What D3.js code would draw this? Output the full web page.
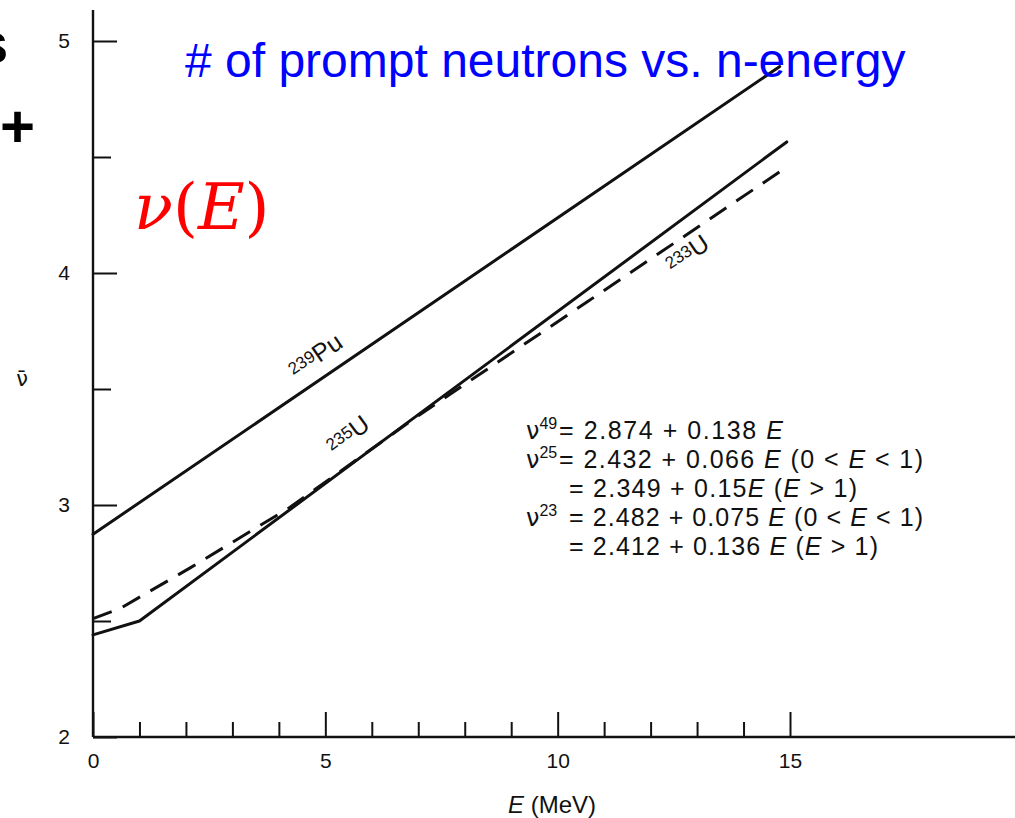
<!DOCTYPE html>
<html><head><meta charset="utf-8">
<script src="https://cdn.jsdelivr.net/npm/d3@7"></script>
<style>body{margin:0;background:#fff;} svg{display:block;}</style>
</head><body>
<svg id="chart" width="1015" height="818"></svg>
<script>
// ---- data ----
const puE = [0, 14.78];
const puNu = [2.874, 4.89];
const u235E = [0, 1.0, 14.93];
const u235Nu = [2.44, 2.50, 4.565];
const u233E = [0, 0.6, 2.1, 4.24, 7.0, 10.63, 14.93];
const u233Nu = [2.51, 2.556, 2.73, 2.99, 3.385, 3.875, 4.457];
const xMajorTicks = [0, 5, 10, 15];
const xMinorTicks = [1, 2, 3, 4, 6, 7, 8, 9, 11, 12, 13, 14];
const yMajorTicks = [2, 3, 4, 5];
const yMinorTicks = [2.5, 3.5, 4.5];
const curveLabels = [
  {iso: "239", el: "Pu", E: 4.85, nu: 3.625, ref: "pu"},
  {iso: "235", el: "U", E: 5.55, nu: 3.285, ref: "u235"},
  {iso: "233", el: "U", E: 12.85, nu: 4.065, ref: "u233"}
];
const eqSymbol = ["ν", "ν", "", "ν", ""];
const eqSup = ["49", "25", "", "23", ""];
const eqRest = [
  "= 2.874 + 0.138 E",
  "= 2.432 + 0.066 E (0 < E < 1)",
  "= 2.349 + 0.15E (E > 1)",
  "= 2.482 + 0.075 E (0 < E < 1)",
  "= 2.412 + 0.136 E (E > 1)"
];
const titleText = "# of prompt neutrons vs. n-energy";
const xLabel = "(MeV)";

// ---- layout ----
const svg = d3.select("#chart");
const x = d3.scaleLinear().domain([0, 15]).range([93, 790]);
const y = d3.scaleLinear().domain([2, 5]).range([737, 41]);
const ink = "#111";

// slide remnants on the left edge
svg.append("text").attr("x", -24).attr("y", 63).attr("font-family", "Liberation Sans, Arial")
  .attr("font-weight", "bold").attr("font-size", 58).text("s");
svg.append("text").attr("x", 0).attr("y", 147).attr("font-family", "Liberation Sans, Arial")
  .attr("font-weight", "bold").attr("font-size", 60).text("+");

// axis lines
svg.append("line").attr("x1", x(0)).attr("x2", x(0)).attr("y1", 10).attr("y2", y(2))
  .attr("stroke", ink).attr("stroke-width", 2.4);
svg.append("line").attr("x1", x(0)).attr("x2", 1015).attr("y1", y(2)).attr("y2", y(2))
  .attr("stroke", ink).attr("stroke-width", 2.4);

function styleAxis(g) {
  g.select(".domain").remove();
  g.selectAll(".tick line").attr("stroke", ink).attr("stroke-width", 2);
  g.selectAll(".tick text").attr("fill", ink).attr("font-family", "Liberation Sans, Arial").attr("font-size", 21);
}
svg.append("g").attr("transform", `translate(0,${y(2)})`)
  .call(d3.axisBottom(x).tickValues(xMajorTicks).tickSizeInner(-25).tickSizeOuter(0).tickPadding(16).tickFormat(d3.format("d")))
  .call(styleAxis);
svg.append("g").attr("transform", `translate(0,${y(2)})`)
  .call(d3.axisBottom(x).tickValues(xMinorTicks).tickSizeInner(-15).tickSizeOuter(0).tickFormat(""))
  .call(styleAxis);
svg.append("g").attr("transform", `translate(${x(0)},0)`)
  .call(d3.axisLeft(y).tickValues(yMajorTicks).tickSizeInner(-24).tickSizeOuter(0).tickPadding(23).tickFormat(d3.format("d")))
  .call(styleAxis);
svg.append("g").attr("transform", `translate(${x(0)},0)`)
  .call(d3.axisLeft(y).tickValues(yMinorTicks).tickSizeInner(-18).tickSizeOuter(0).tickFormat(""))
  .call(styleAxis);

// axis titles
svg.append("text").attr("x", 22).attr("y", 386).attr("text-anchor", "middle")
  .attr("font-family", "DejaVu Sans, Liberation Sans").attr("font-size", 21).attr("fill", ink).text("ν\u0304");
const xl = svg.append("text").attr("x", 552).attr("y", 813).attr("text-anchor", "middle")
  .attr("font-family", "Liberation Sans, Arial").attr("font-size", 24).attr("fill", ink);
xl.append("tspan").attr("font-style", "italic").text("E");
xl.append("tspan").text(" " + xLabel);

// curves
const line = d3.line().x(d => x(d[0])).y(d => y(d[1]));
const series = {
  pu: d3.zip(puE, puNu),
  u235: d3.zip(u235E, u235Nu),
  u233: d3.zip(u233E, u233Nu)
};
svg.append("path").datum(series.pu).attr("d", line).attr("fill", "none")
  .attr("stroke", ink).attr("stroke-width", 3).attr("stroke-linecap", "round");
svg.append("path").datum(series.u235).attr("d", line).attr("fill", "none")
  .attr("stroke", ink).attr("stroke-width", 3).attr("stroke-linecap", "round").attr("stroke-linejoin", "round");
svg.append("path").datum(series.u233).attr("d", line).attr("fill", "none")
  .attr("stroke", ink).attr("stroke-width", 3).attr("stroke-dasharray", "20,12");

// curve labels, rotated along their curves
curveLabels.forEach(l => {
  const s = series[l.ref];
  const a = s[s.length - 2], b = s[s.length - 1];
  const ang = Math.atan2(y(b[1]) - y(a[1]), x(b[0]) - x(a[0])) * 180 / Math.PI;
  const t = svg.append("text")
    .attr("transform", `translate(${x(l.E)},${y(l.nu)}) rotate(${ang})`)
    .attr("text-anchor", "middle").attr("dy", "0.35em")
    .attr("font-family", "Liberation Sans, Arial").attr("fill", ink);
  t.append("tspan").attr("font-size", 17).attr("dy", "-0.1em").text(l.iso);
  t.append("tspan").attr("font-size", 25).attr("dy", "0.2em").text(l.el);
});

// equations
const eqX0 = 526, eqXeq = [557, 557, 567, 567, 567], eqW = [226, 366, 290, 356, 311];
eqRest.forEach((r, i) => {
  const by = 439 + i * 29;
  if (eqSymbol[i]) {
    const s = svg.append("text").attr("x", eqX0).attr("y", by)
      .attr("font-family", "DejaVu Sans, Liberation Sans").attr("font-size", 24).attr("fill", ink);
    s.append("tspan").text(eqSymbol[i]);
    s.append("tspan").attr("font-family", "Liberation Sans, Arial").attr("font-size", 16).attr("dy", -10).text(eqSup[i]);
  }
  const t = svg.append("text").attr("x", eqXeq[i] + 2).attr("y", by)
    .attr("font-family", "Liberation Sans, Arial").attr("font-size", 25).attr("fill", ink)
    .attr("textLength", eqW[i] - 2).attr("lengthAdjust", "spacing");
  const parts = r.split("E");
  parts.forEach((p, k) => {
    if (p) t.append("tspan").text(p);
    if (k < parts.length - 1) t.append("tspan").attr("font-style", "italic").text("E");
  });
});

// title and nu(E)
svg.append("text").attr("x", 185).attr("y", 77).attr("font-family", "Liberation Sans, Arial")
  .attr("font-size", 48).attr("fill", "#0000ff").text(titleText);
const nuE = svg.append("text").attr("x", 134).attr("y", 229).attr("font-family", "DejaVu Serif, Liberation Serif")
  .attr("font-size", 64).attr("fill", "#ff0000");
nuE.append("tspan").attr("font-style", "italic").text("ν");
nuE.append("tspan").text("(");
nuE.append("tspan").attr("font-style", "italic").text("E");
nuE.append("tspan").text(")");
</script>
</body></html>
